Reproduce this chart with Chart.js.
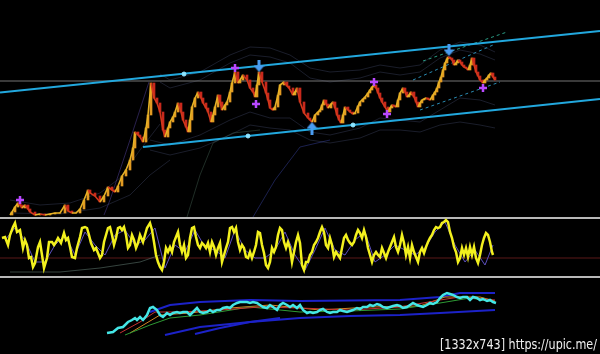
<!DOCTYPE html>
<html lang="en">
<head>
<meta charset="UTF-8">
<title>Channel chart</title>
<script src="https://cdn.jsdelivr.net/npm/chart.js"></script>
<style>
  html, body { margin: 0; padding: 0; background: #000; }
  canvas { display: block; background: #000; }
</style>
</head>
<body>
<canvas id="chart" width="600" height="354"></canvas>
<script>
// [bar, close] in price points
const price = [[10,139],[12,142],[15,147],[18,151],[20,149],[22,146],[25,149],[28,145],[30,142],[35,139],[40,140],[45,139],[50,140],[55,141],[60,141],[65,149],[68,143],[72,141],[76,141],[80,145],[84,154],[88,164],[90,161],[95,158],[100,152],[104,158],[108,167],[112,164],[115,162],[118,168],[122,178],[126,184],[130,194],[133,206],[135,222],[138,219],[140,217],[143,212],[146,226],[148,239],[151,271],[154,256],[157,251],[160,242],[163,224],[165,217],[168,226],[170,232],[173,237],[175,242],[178,251],[181,242],[183,234],[186,227],[188,222],[190,234],[192,247],[195,256],[198,262],[201,256],[203,251],[206,246],[208,242],[211,232],[213,239],[215,247],[218,259],[220,252],[222,244],[225,249],[227,252],[230,262],[232,271],[235,282],[238,271],[240,274],[243,279],[247,274],[250,266],[253,262],[255,257],[257,269],[259,282],[262,272],[266,261],[268,254],[270,246],[273,244],[275,247],[278,259],[280,269],[284,272],[287,268],[289,266],[293,259],[295,262],[297,266],[300,252],[304,241],[308,236],[310,234],[312,232],[315,239],[318,242],[320,244],[322,249],[324,254],[326,250],[328,246],[331,250],[333,252],[335,246],[337,239],[339,234],[341,231],[343,239],[345,247],[348,244],[350,242],[353,240],[355,241],[358,248],[360,252],[363,255],[365,257],[368,261],[370,264],[372,267],[374,269],[376,266],[378,261],[380,256],[382,252],[385,247],[388,242],[390,246],[392,249],[394,248],[396,247],[398,254],[400,261],[403,266],[405,262],[407,257],[409,259],[411,262],[414,257],[416,252],[418,247],[420,251],[422,254],[424,255],[426,256],[428,255],[430,254],[433,259],[435,262],[437,266],[439,272],[441,277],[443,284],[445,291],[447,295],[448,297],[450,296],[452,294],[454,289],[456,291],[458,294],[460,292],[462,289],[464,287],[466,286],[468,284],[470,289],[472,296],[474,289],[476,282],[478,278],[480,274],[483,271],[485,274],[487,276],[489,279],[491,281],[493,277],[495,274]];

// envelope bands around price
const bandUpA = [[160,280],[170,274],[200,282],[230,299],[250,307],[270,306],[290,299],[310,286],[330,282],[360,284],[380,289],[400,286],[420,289],[440,304],[460,312],[480,309],[495,302]];
const bandUpB = [[160,272],[170,266],[200,274],[230,291],[250,299],[270,297],[290,291],[310,276],[330,272],[360,276],[380,282],[400,279],[420,282],[440,296],[460,304],[480,300],[495,294]];
const bandLoA = [[150,214],[170,209],[200,219],[230,234],[250,242],[270,236],[290,236],[310,222],[330,219],[360,226],[380,236],[400,234],[420,232],[440,244],[460,256],[480,254],[495,249]];
const bandLoB = [[150,204],[170,199],[200,206],[230,219],[250,229],[270,226],[290,224],[310,214],[330,211],[360,216],[380,224],[400,224],[420,222],[440,229],[460,232],[480,229],[495,226]];
const bandLeftA = [[10,154],[40,149],[70,151],[100,161],[120,176],[140,204],[160,230]];
const bandLeftB = [[10,141],[60,140],[100,146],[130,159],[150,179],[170,194]];
const slowPurple = [[104,139],[110,154],[130,214],[149,272]];
const slowGreen = [[187,137],[200,179],[213,211],[233,221],[260,224]];
const slowBlue = [[253,137],[275,174],[300,207],[330,214]];

const priceLevel = 273;
const channelUpper = [[0,261.5],[600,323]];
const channelLower = [[143,207],[600,255]];
const channelDots = [[184,280],[248,218],[353,229]];
const dashA = [[423,293],[507,322]];
const dashB = [[413,274],[493,309]];
const dashC = [[420,244],[500,272]];

const fractalMarks = [[20,154],[235,286],[256,250],[374,272],[387,240],[483,266]];
const sellArrows = [[259,288],[449,304]];
const buyArrows = [[312,226]];

// oscillator panel
const osc = [[2,39],[5,40],[8,32],[10,42],[13,50],[15,54],[17,45],[20,47],[23,29],[25,37],[27,32],[29,19],[31,20],[33,10],[35,14],[38,30],[40,35],[42,22],[44,9],[47,19],[49,35],[52,35],[54,32],[56,35],[58,39],[61,34],[64,44],[66,37],[68,39],[70,30],[72,20],[75,19],[77,29],[80,40],[82,49],[85,50],[87,49],[89,42],[91,34],[94,27],[96,29],[98,24],[100,19],[102,22],[104,35],[106,42],[108,49],[110,50],[112,42],[114,32],[116,39],[118,49],[120,50],[122,47],[124,50],[126,42],[128,29],[130,32],[132,42],[134,37],[136,29],[138,34],[140,42],[143,35],[145,42],[147,49],[150,54],[152,47],[154,35],[156,22],[158,15],[160,10],[162,7],[164,15],[166,29],[168,25],[170,30],[172,25],[174,35],[176,40],[178,45],[180,32],[182,25],[184,32],[186,19],[188,22],[190,39],[192,49],[194,50],[196,40],[198,32],[200,29],[202,34],[204,32],[206,29],[208,34],[210,25],[212,35],[214,30],[216,22],[218,29],[220,34],[222,15],[224,22],[226,29],[228,35],[230,49],[232,50],[234,45],[236,49],[238,35],[240,27],[242,32],[244,29],[246,20],[248,19],[250,25],[252,19],[254,25],[256,32],[258,45],[260,44],[262,32],[264,24],[266,12],[268,9],[270,15],[272,29],[274,25],[276,30],[278,42],[280,49],[282,47],[284,35],[286,29],[288,35],[290,29],[292,15],[294,25],[296,35],[298,42],[300,34],[302,12],[304,7],[306,15],[308,15],[310,22],[312,25],[314,32],[316,35],[318,39],[320,45],[322,50],[324,45],[326,32],[328,29],[330,39],[332,32],[334,20],[336,25],[338,22],[340,19],[342,29],[344,39],[346,42],[348,37],[350,34],[352,32],[354,35],[356,42],[358,47],[360,44],[362,39],[364,47],[366,40],[368,29],[370,22],[372,15],[374,22],[376,25],[378,22],[380,20],[382,29],[384,24],[386,19],[388,25],[390,30],[392,35],[394,40],[396,30],[398,25],[400,32],[402,42],[404,34],[406,22],[408,30],[410,19],[412,32],[414,25],[416,20],[418,15],[420,25],[422,29],[424,24],[426,30],[428,35],[430,39],[432,42],[434,47],[436,50],[438,49],[440,50],[442,54],[444,55],[446,57],[448,55],[450,45],[452,39],[454,30],[456,25],[458,15],[460,19],[462,29],[464,22],[466,29],[468,20],[470,30],[472,22],[474,30],[476,19],[478,14],[480,22],[482,32],[484,39],[486,44],[488,42],[490,35],[492,25],[493,22]];
const oscSignal = [[5,37],[15,49],[25,37],[35,15],[45,15],[55,32],[65,42],[75,22],[85,45],[95,32],[105,22],[115,42],[125,47],[135,32],[145,37],[155,49],[165,9],[175,32],[185,25],[195,47],[205,30],[215,27],[225,19],[235,47],[245,27],[255,19],[265,19],[275,27],[285,45],[295,22],[305,7],[315,27],[325,49],[335,27],[345,22],[355,37],[365,45],[375,15],[385,22],[395,32],[405,27],[415,22],[425,29],[435,45],[445,55],[455,32],[465,15],[475,27],[485,12],[493,32]];
const oscSlow = [[10,5],[60,5],[100,9],[140,15],[160,22]];
const oscTop = 59, oscBottom = 0, oscMid = 19;

// lower indicator panel
const lowerMain = [[107,7],[113,8],[118,12],[123,13],[128,18],[132,20],[135,22],[137,20],[140,23],[143,20],[147,25],[150,32],[153,33],[157,30],[160,25],[163,23],[167,27],[170,25],[173,27],[177,28],[180,27],[183,28],[187,28],[190,25],[193,28],[197,32],[200,28],[203,27],[207,28],[210,30],[213,28],[217,30],[220,30],[223,32],[227,33],[230,32],[233,35],[237,37],[240,38],[243,38],[247,38],[250,37],[253,38],[257,37],[260,35],[263,33],[267,32],[270,35],[273,33],[277,30],[280,35],[283,37],[287,35],[290,33],[293,35],[297,32],[300,35],[303,30],[307,27],[310,28],[313,27],[317,28],[320,30],[323,31],[327,28],[330,27],[333,28],[337,28],[340,30],[343,29],[347,28],[350,29],[353,30],[357,32],[360,31],[363,33],[367,33],[370,35],[373,34],[377,36],[380,35],[383,33],[387,32],[390,33],[393,34],[397,35],[400,34],[403,32],[407,33],[410,35],[413,37],[417,35],[420,34],[423,33],[427,35],[430,37],[433,36],[437,38],[440,42],[443,45],[447,47],[450,46],[453,45],[457,43],[460,42],[463,43],[467,43],[470,40],[473,43],[477,42],[480,40],[483,41],[487,39],[490,40],[493,38],[496,37]];
const lowerBlueTop = [[150,28],[170,35],[200,38],[250,40],[300,39],[400,40],[440,43],[460,47],[495,47]];
const lowerBlueLow = [[165,5],[200,13],[250,18],[300,22],[350,24],[400,25],[440,27],[495,30]];
const lowerBlueRise = [[195,6],[220,12],[250,18],[280,22]];
const lowerRed = [[120,7],[140,18],[155,28],[180,28],[220,30],[260,33],[300,32],[350,30],[400,33],[440,40],[460,43],[495,40]];
const lowerGreen = [[125,5],[150,15],[170,22],[200,25],[250,33],[300,28],[350,29],[400,31],[440,37],[470,42],[495,38]];
const lowerOrange = [[130,7],[160,25],[190,27],[230,32],[270,35],[320,30],[370,33],[420,34],[445,43],[480,43],[495,39]];

const watermarkText = '[1332x743] https://upic.me/';

function pts(arr) {
  return arr.map(p => ({ x: p[0], y: p[1] }));
}

function line(data, color, width, axis, order, extra) {
  return Object.assign({
    type: 'line', data: pts(data), borderColor: color, borderWidth: width,
    pointRadius: 0, yAxisID: axis, order: order, fill: false, tension: 0
  }, extra || {});
}

function marks(data, style, radius, color, order, extra) {
  return Object.assign({
    type: 'line', data: pts(data), showLine: false, pointStyle: style,
    pointRadius: radius, borderColor: color, backgroundColor: color,
    yAxisID: 'yP', order: order
  }, extra || {});
}

function arrow(down) {
  const c = document.createElement('canvas');
  c.width = 11; c.height = 13;
  const g = c.getContext('2d');
  g.fillStyle = '#4a9cf0';
  if (!down) { g.translate(0, 13); g.scale(1, -1); }
  g.fillRect(4, 0, 3, 7);
  g.beginPath();
  g.moveTo(0, 6); g.lineTo(11, 6); g.lineTo(5.5, 12.5);
  g.closePath();
  g.fill();
  return c;
}

const candles = price.slice(1).map((p, i) => ({ x: p[0], y: [price[i][1], p[1]] }));
const candleColors = candles.map(c => c.y[1] >= c.y[0] ? '#e29a22' : '#c8281c');

const faint = 'rgba(95,105,150,0.28)';

const watermark = {
  id: 'watermark',
  afterDraw(chart) {
    const c = chart.ctx;
    c.save();
    c.font = '14px "DejaVu Sans"';
    c.fillStyle = '#f0f0f0';
    c.textBaseline = 'alphabetic';
    const w = c.measureText(watermarkText).width;
    c.translate(440, 349);
    c.scale(157 / w, 1);
    c.fillText(watermarkText, 0, 0);
    c.restore();
  }
};

new Chart(document.getElementById('chart'), {
  type: 'line',
  data: {
    datasets: [
      line(bandUpA, faint, 1, 'yP', 20),
      line(bandUpB, faint, 1, 'yP', 20),
      line(bandLoA, faint, 1, 'yP', 20),
      line(bandLoB, faint, 1, 'yP', 20),
      line(bandLeftA, faint, 1, 'yP', 20),
      line(bandLeftB, faint, 1, 'yP', 20),
      line(slowPurple, 'rgba(90,70,170,0.45)', 1, 'yP', 20),
      line(slowGreen, 'rgba(90,130,110,0.35)', 1, 'yP', 20),
      line(slowBlue, 'rgba(60,70,170,0.45)', 1, 'yP', 20),
      line([[0, priceLevel], [600, priceLevel]], '#747474', 1, 'yP', 15),
      line(channelUpper, '#22a8de', 2, 'yP', 6),
      line(channelLower, '#22a8de', 2, 'yP', 6),
      line(dashA, '#2a9c84', 1, 'yP', 6, { borderDash: [3, 3] }),
      line(dashB, '#2a8cb4', 1, 'yP', 6, { borderDash: [3, 3] }),
      line(dashC, '#2a8cb4', 1, 'yP', 6, { borderDash: [3, 3] }),
      {
        type: 'bar', data: candles, backgroundColor: candleColors,
        barThickness: 2, yAxisID: 'yP', order: 5, grouped: false
      },
      line(price, '#e07a22', 1.6, 'yP', 4, {
        segment: { borderColor: s => s.p1.parsed.y >= s.p0.parsed.y ? '#e6b226' : '#d2381c' }
      }),
      marks(channelDots, 'circle', 2, '#8fe4ff', 2),
      marks(fractalMarks, 'cross', 4, '#b848ff', 1, { borderWidth: 2.5 }),
      marks(sellArrows, arrow(true), 6, '#4a9cf0', 1),
      marks(buyArrows, arrow(false), 6, '#4a9cf0', 1),

      line([[0, oscTop], [600, oscTop]], '#b8b8b8', 2, 'yO', 15),
      line([[0, oscBottom], [600, oscBottom]], '#b8b8b8', 2, 'yO', 15),
      line([[0, oscMid], [600, oscMid]], 'rgba(100,28,28,0.9)', 1, 'yO', 15),
      line(oscSlow, 'rgba(120,150,140,0.45)', 1, 'yO', 12),
      line(oscSignal, '#5c50c0', 1, 'yO', 11),
      line(osc, '#f2f01e', 2.5, 'yO', 10),

      line(lowerBlueTop, '#1c22c8', 2, 'yB', 12),
      line(lowerBlueLow, '#1c22c8', 2, 'yB', 12),
      line(lowerBlueRise, '#1c22c8', 2, 'yB', 12),
      line(lowerRed, '#c43232', 1, 'yB', 11),
      line(lowerGreen, '#2e9a34', 1, 'yB', 11),
      line(lowerOrange, '#d08424', 1, 'yB', 11),
      line(lowerMain, '#44e6e6', 2.5, 'yB', 10)
    ]
  },
  options: {
    responsive: false,
    animation: false,
    devicePixelRatio: 1,
    events: [],
    layout: { padding: 0, autoPadding: false },
    plugins: { legend: { display: false }, tooltip: { enabled: false } },
    scales: {
      x: { type: 'linear', min: 0, max: 600, offset: false, display: false },
      yP: { type: 'linear', min: 0, max: 354, display: false },
      yO: { type: 'linear', min: -77, max: 277, display: false },
      yB: { type: 'linear', min: -14, max: 340, display: false }
    }
  },
  plugins: [watermark]
});
</script>
</body>
</html>
